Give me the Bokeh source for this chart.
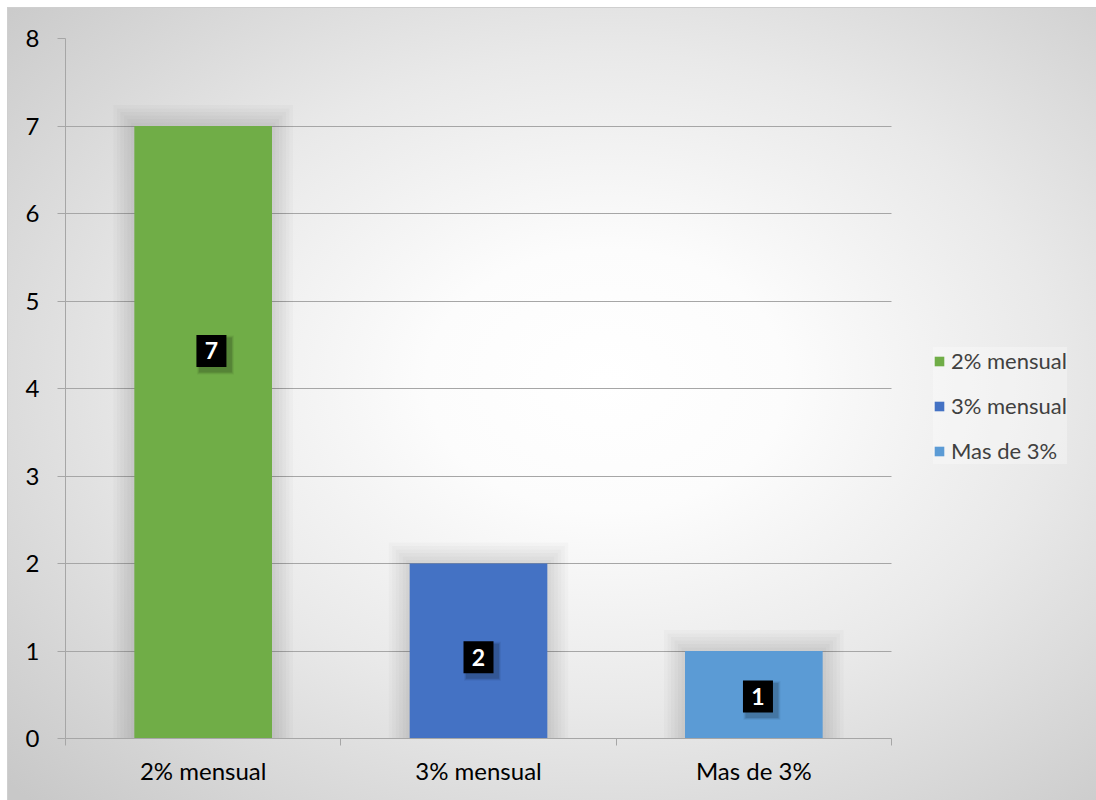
from bokeh.plotting import figure
from bokeh.models import ColumnDataSource, FixedTicker, Legend, LegendItem
from bokeh.core.properties import value
from bokeh.embed import file_html
from bokeh.resources import INLINE

categories = ["2% mensual", "3% mensual", "Mas de 3%"]
counts = [7, 2, 1]
colors = ["#70ad47", "#4472c4", "#5b9bd5"]
y_ticks = [0, 1, 2, 3, 4, 5, 6, 7, 8]
# data-label anchor heights (in data units) as placed in the original
label_y = [4.43, 0.93, 0.48]
label_dx = [0.03, 0.0, 0.015]

W, H = 1088, 792
FRAME_W = 1031          # frame spans to the right edge; the data area uses 826 px of it
n = len(categories)
x_end = n * FRAME_W / 826.0

p = figure(width=W, height=H, output_backend="svg", toolbar_location=None,
           x_range=(0, x_end), y_range=(0, 8),
           min_border_left=57, min_border_right=0, min_border_top=30, min_border_bottom=62)
p.border_fill_color = None
p.background_fill_color = None
p.outline_line_color = None
p.styles = {"background": "radial-gradient(ellipse 75% 75% at 55% 47%, #ffffff 0%, #fcfcfc 22%, #e9e9e9 55%, #d3d3d3 85%, #c8c8c8 100%)",
            "outline": "1px solid #cfcfcf", "margin-left": "8px", "margin-top": "8px"}

xs = [i + 0.5 for i in range(n)]
px_x = n / 826.0
px_y = 8 / 700.0

# soft glow behind bars
for k in range(1, 7):
    e = 3.5 * k
    p.rect(x=xs, y=[c / 2 + e * px_y / 2 for c in counts], width=0.5 + 2 * e * px_x,
           height=[c + e * px_y for c in counts], fill_color="black", fill_alpha=0.02,
           line_color=None)

src = ColumnDataSource(dict(x=xs, top=counts, color=colors, cat=categories))
bars = p.vbar(x="x", top="top", bottom=0, width=0.5, fill_color="color", line_color=None, source=src)

# data labels with drop shadow
lx = [x + d for x, d in zip(xs, label_dx)]
for k, a in [(3, 0.12), (5, 0.08), (7, 0.05)]:
    p.rect(x=[x + 4 * px_x for x in lx], y=[y - 4 * px_y for y in label_y], width=30 + k, height=32 + k,
           width_units="screen", height_units="screen", fill_color="black", fill_alpha=a, line_color=None)
p.rect(x=lx, y=label_y, width=30, height=32, width_units="screen", height_units="screen",
       fill_color="black", line_color=None)
p.text(x=lx, y=label_y, text=[str(c) for c in counts], text_color="white",
       text_font=value("Lato"), text_font_style="bold", text_font_size="23px",
       text_align="center", text_baseline="middle")

# grid
p.xgrid.visible = False
p.ygrid.ticker = FixedTicker(ticks=y_ticks)
p.ygrid.grid_line_color = "#a6a6a6"
p.ygrid.grid_line_width = 1
p.ygrid.cross_bounds = (0, n)

# y axis
p.yaxis.ticker = FixedTicker(ticks=y_ticks)
p.yaxis.axis_line_color = "#a6a6a6"
p.yaxis.major_tick_line_color = "#a6a6a6"
p.yaxis.major_tick_out = 8
p.yaxis.major_tick_in = 0
p.yaxis.minor_tick_line_color = None
p.yaxis.major_label_text_font = "Lato"
p.yaxis.major_label_text_font_size = "24px"
p.yaxis.major_label_text_color = "#000000"
p.yaxis.major_label_standoff = 18

# x axis
p.xaxis.ticker = FixedTicker(ticks=xs, minor_ticks=list(range(n + 1)))
p.xaxis.bounds = (0, n)
p.xaxis.major_label_overrides = {x: c for x, c in zip(xs, categories)}
p.xaxis.axis_line_color = "#a6a6a6"
p.xaxis.major_tick_line_color = None
p.xaxis.minor_tick_line_color = "#a6a6a6"
p.xaxis.minor_tick_out = 7
p.xaxis.minor_tick_in = 0
p.xaxis.major_label_text_font = "Lato"
p.xaxis.major_label_text_font_size = "24px"
p.xaxis.major_label_text_color = "#000000"
p.xaxis.major_label_standoff = 10

# legend
items = [LegendItem(label=c, renderers=[bars], index=i) for i, c in enumerate(categories)]
legend = Legend(items=items, location=(868, 274), orientation="vertical")
legend.background_fill_color = "#ffffff"
legend.background_fill_alpha = 0.3
legend.border_line_color = None
legend.label_text_font = "Lato"
legend.label_text_font_size = "22px"
legend.label_text_color = "#404040"
legend.glyph_width = 12
legend.glyph_height = 12
legend.label_height = 22
legend.spacing = 18
legend.padding = 11
legend.label_standoff = 6
legend.margin = 0
p.add_layout(legend, "center")

open("out.html", "w").write(file_html(p, INLINE))
